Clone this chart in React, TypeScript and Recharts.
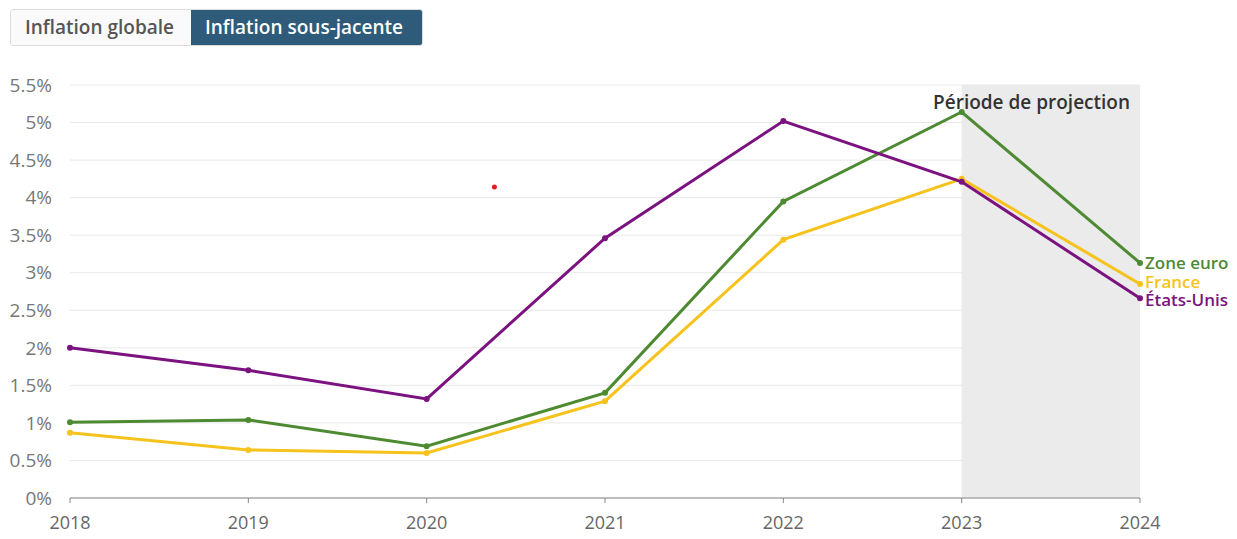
import React from 'react';
import { LineChart, Line, XAxis, YAxis, CartesianGrid, ReferenceArea, ReferenceDot } from 'recharts';

const years = [2018, 2019, 2020, 2021, 2022, 2023, 2024];
const zoneEuro = [1.01, 1.04, 0.69, 1.4, 3.95, 5.14, 3.13];
const france = [0.87, 0.64, 0.6, 1.29, 3.44, 4.25, 2.85];
const etatsUnis = [2.0, 1.7, 1.32, 3.46, 5.02, 4.21, 2.66];
const yTicks = [0, 0.5, 1, 1.5, 2, 2.5, 3, 3.5, 4, 4.5, 5, 5.5];

const data = years.map((year, i) => ({
  year,
  zone: zoneEuro[i],
  france: france[i],
  us: etatsUnis[i],
}));

const FONT = '"Open Sans", "Noto Sans", sans-serif';

const fmtPct = (v: number) => `${v}%`;

// end-of-line series name, nudged a bit so the three names don't collide
const endLabel = (text: string, color: string, shift: number) => (props: any) => {
  const { x, y, index } = props;
  if (index !== years.length - 1) return null;
  return (
    <text x={x + 5} y={y + shift} dy={6} fill={color} fontSize={17} fontWeight={600} fontFamily={FONT}>
      {text}
    </text>
  );
};

const ProjectionLabel = (props: any) => {
  const { viewBox } = props;
  return (
    <text
      x={viewBox.x + viewBox.width - 10}
      y={viewBox.y + 24}
      textAnchor="end"
      fill="#333"
      fontSize={19}
      fontWeight={600}
      fontFamily={FONT}
    >
      Période de projection
    </text>
  );
};

const btnBase: React.CSSProperties = {
  display: 'inline-block',
  height: 35,
  lineHeight: '35px',
  padding: '0 14px',
  fontSize: 19,
  fontWeight: 600,
  fontFamily: FONT,
  boxSizing: 'border-box',
  whiteSpace: 'nowrap',
};

const App: React.FC = () => {
  return (
    <div style={{ position: 'absolute', left: 0, top: 0, width: 1237, height: 539, background: '#fff' }}>
      <div
        style={{
          position: 'absolute',
          left: 10,
          top: 9,
          display: 'flex',
          borderRadius: 3,
          overflow: 'hidden',
          border: '1px solid #dcdcdc',
        }}
      >
        <span style={{ ...btnBase, width: 180, background: '#fafafa', color: '#555' }}>Inflation globale</span>
        <span style={{ ...btnBase, width: 231, background: '#2e5b7a', color: '#fff' }}>Inflation sous-jacente</span>
      </div>
      <div style={{ position: 'absolute', left: 0, top: 60 }}>
        <LineChart width={1237} height={479} data={data} margin={{ top: 25, right: 97, bottom: 7, left: 0 }}>
          <CartesianGrid vertical={false} stroke="#e8e8e8" />
          <ReferenceArea
            x1={2023}
            x2={2024}
            y1={0}
            y2={5.5}
            fill="#ebebeb"
            fillOpacity={1}
            stroke="none"
            label={<ProjectionLabel />}
          />
          <XAxis
            dataKey="year"
            type="number"
            domain={[2018, 2024]}
            ticks={years}
            axisLine={{ stroke: '#888' }}
            tickLine={{ stroke: '#888' }}
            tickSize={5}
            tickMargin={13}
            height={34}
            tick={{ fill: '#666', fontSize: 18, fontFamily: FONT }}
          />
          <YAxis
            domain={[0, 5.5]}
            ticks={yTicks}
            tickFormatter={fmtPct}
            axisLine={false}
            tickLine={false}
            tickSize={0}
            tickMargin={18}
            width={70}
            tick={{ fill: '#777', fontSize: 19, fontFamily: FONT }}
          />
          <ReferenceDot x={2020.38} y={4.14} r={2.5} fill="#e02020" stroke="none" />
          <Line
            dataKey="zone"
            stroke="#4e8a32"
            strokeWidth={3}
            dot={{ r: 1.5, fill: '#4e8a32', stroke: '#4e8a32' }}
            label={endLabel('Zone euro', '#4e8a32', 0)}
            isAnimationActive={false}
          />
          <Line
            dataKey="france"
            stroke="#f6c21c"
            strokeWidth={3}
            dot={{ r: 1.5, fill: '#f6c21c', stroke: '#f6c21c' }}
            label={endLabel('France', '#f6c21c', -2)}
            isAnimationActive={false}
          />
          <Line
            dataKey="us"
            stroke="#7b1280"
            strokeWidth={3}
            dot={{ r: 1.5, fill: '#7b1280', stroke: '#7b1280' }}
            label={endLabel('États-Unis', '#7b1280', 2)}
            isAnimationActive={false}
          />
        </LineChart>
      </div>
    </div>
  );
};

export default App;
